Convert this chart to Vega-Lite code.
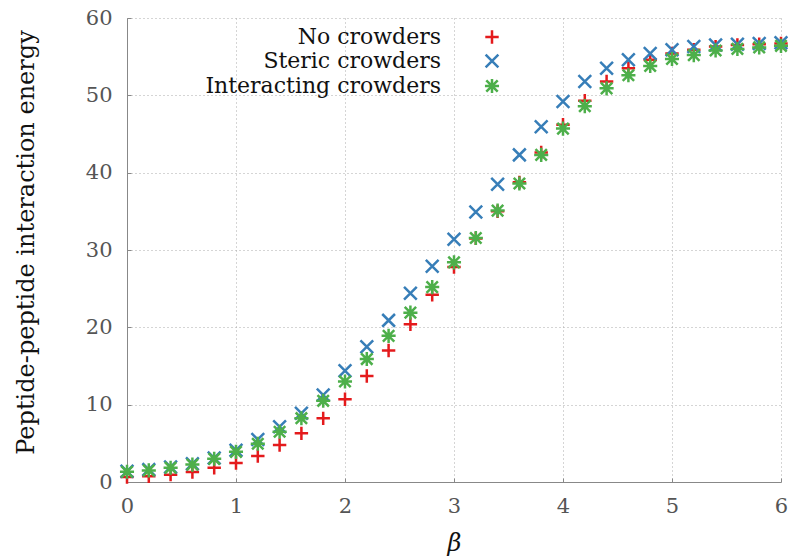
{
  "$schema": "https://vega.github.io/schema/vega-lite/v6.json",
  "width": 654,
  "height": 464,
  "autosize": {"type": "none"},
  "padding": {"left": 127, "top": 18, "right": 7, "bottom": 77},
  "background": "white",
  "config": {
    "view": {"stroke": null},
    "font": "DejaVu Serif",
    "axis": {
      "labelFont": "DejaVu Serif",
      "labelFontSize": 21,
      "labelColor": "#555555",
      "titleFont": "DejaVu Serif",
      "titleFontSize": 24,
      "titleFontWeight": "normal",
      "titleColor": "#111111",
      "domainColor": "#888888",
      "domainWidth": 1,
      "gridColor": "#aaaaaa",
      "gridDash": [1, 3],
      "gridWidth": 1,
      "tickColor": "#888888",
      "tickSize": -4,
      "labelFlush": false,
      "labelOverlap": false
    },
    "legend": {
      "orient": "none",
      "legendX": 354,
      "legendY": 8,
      "padding": 0,
      "labelAlign": "right",
      "labelOffset": -62,
      "labelFont": "DejaVu Serif",
      "labelFontSize": 22,
      "labelColor": "#111111",
      "labelLimit": 0,
      "rowPadding": 0,
      "symbolSize": 180,
      "symbolStrokeWidth": 2.5,
      "symbolType": "stroke"
    }
  },
  "data": {
    "values": [
      {"beta": 0.0, "energy": 0.65, "series": "No crowders"},
      {"beta": 0.2, "energy": 0.75, "series": "No crowders"},
      {"beta": 0.4, "energy": 0.95, "series": "No crowders"},
      {"beta": 0.6, "energy": 1.3, "series": "No crowders"},
      {"beta": 0.8, "energy": 1.85, "series": "No crowders"},
      {"beta": 1.0, "energy": 2.45, "series": "No crowders"},
      {"beta": 1.2, "energy": 3.36, "series": "No crowders"},
      {"beta": 1.4, "energy": 4.78, "series": "No crowders"},
      {"beta": 1.6, "energy": 6.29, "series": "No crowders"},
      {"beta": 1.8, "energy": 8.23, "series": "No crowders"},
      {"beta": 2.0, "energy": 10.7, "series": "No crowders"},
      {"beta": 2.2, "energy": 13.7, "series": "No crowders"},
      {"beta": 2.4, "energy": 17.0, "series": "No crowders"},
      {"beta": 2.6, "energy": 20.4, "series": "No crowders"},
      {"beta": 2.8, "energy": 24.2, "series": "No crowders"},
      {"beta": 3.0, "energy": 27.8, "series": "No crowders"},
      {"beta": 3.2, "energy": 31.5, "series": "No crowders"},
      {"beta": 3.4, "energy": 35.0, "series": "No crowders"},
      {"beta": 3.6, "energy": 38.75, "series": "No crowders"},
      {"beta": 3.8, "energy": 42.6, "series": "No crowders"},
      {"beta": 4.0, "energy": 46.2, "series": "No crowders"},
      {"beta": 4.2, "energy": 49.3, "series": "No crowders"},
      {"beta": 4.4, "energy": 51.8, "series": "No crowders"},
      {"beta": 4.6, "energy": 53.5, "series": "No crowders"},
      {"beta": 4.8, "energy": 54.6, "series": "No crowders"},
      {"beta": 5.0, "energy": 55.4, "series": "No crowders"},
      {"beta": 5.2, "energy": 55.9, "series": "No crowders"},
      {"beta": 5.4, "energy": 56.3, "series": "No crowders"},
      {"beta": 5.6, "energy": 56.5, "series": "No crowders"},
      {"beta": 5.8, "energy": 56.6, "series": "No crowders"},
      {"beta": 6.0, "energy": 56.7, "series": "No crowders"},
      {"beta": 0.0, "energy": 1.4, "series": "Steric crowders"},
      {"beta": 0.2, "energy": 1.6, "series": "Steric crowders"},
      {"beta": 0.4, "energy": 1.95, "series": "Steric crowders"},
      {"beta": 0.6, "energy": 2.35, "series": "Steric crowders"},
      {"beta": 0.8, "energy": 3.1, "series": "Steric crowders"},
      {"beta": 1.0, "energy": 4.1, "series": "Steric crowders"},
      {"beta": 1.2, "energy": 5.5, "series": "Steric crowders"},
      {"beta": 1.4, "energy": 7.15, "series": "Steric crowders"},
      {"beta": 1.6, "energy": 8.9, "series": "Steric crowders"},
      {"beta": 1.8, "energy": 11.25, "series": "Steric crowders"},
      {"beta": 2.0, "energy": 14.4, "series": "Steric crowders"},
      {"beta": 2.2, "energy": 17.5, "series": "Steric crowders"},
      {"beta": 2.4, "energy": 20.9, "series": "Steric crowders"},
      {"beta": 2.6, "energy": 24.4, "series": "Steric crowders"},
      {"beta": 2.8, "energy": 27.9, "series": "Steric crowders"},
      {"beta": 3.0, "energy": 31.4, "series": "Steric crowders"},
      {"beta": 3.2, "energy": 34.9, "series": "Steric crowders"},
      {"beta": 3.4, "energy": 38.5, "series": "Steric crowders"},
      {"beta": 3.6, "energy": 42.3, "series": "Steric crowders"},
      {"beta": 3.8, "energy": 45.95, "series": "Steric crowders"},
      {"beta": 4.0, "energy": 49.2, "series": "Steric crowders"},
      {"beta": 4.2, "energy": 51.8, "series": "Steric crowders"},
      {"beta": 4.4, "energy": 53.5, "series": "Steric crowders"},
      {"beta": 4.6, "energy": 54.6, "series": "Steric crowders"},
      {"beta": 4.8, "energy": 55.4, "series": "Steric crowders"},
      {"beta": 5.0, "energy": 55.9, "series": "Steric crowders"},
      {"beta": 5.2, "energy": 56.3, "series": "Steric crowders"},
      {"beta": 5.4, "energy": 56.5, "series": "Steric crowders"},
      {"beta": 5.6, "energy": 56.6, "series": "Steric crowders"},
      {"beta": 5.8, "energy": 56.7, "series": "Steric crowders"},
      {"beta": 6.0, "energy": 56.8, "series": "Steric crowders"},
      {"beta": 0.0, "energy": 1.33, "series": "Interacting crowders"},
      {"beta": 0.2, "energy": 1.5, "series": "Interacting crowders"},
      {"beta": 0.4, "energy": 1.85, "series": "Interacting crowders"},
      {"beta": 0.6, "energy": 2.25, "series": "Interacting crowders"},
      {"beta": 0.8, "energy": 3.0, "series": "Interacting crowders"},
      {"beta": 1.0, "energy": 3.9, "series": "Interacting crowders"},
      {"beta": 1.2, "energy": 4.95, "series": "Interacting crowders"},
      {"beta": 1.4, "energy": 6.5, "series": "Interacting crowders"},
      {"beta": 1.6, "energy": 8.25, "series": "Interacting crowders"},
      {"beta": 1.8, "energy": 10.5, "series": "Interacting crowders"},
      {"beta": 2.0, "energy": 13.0, "series": "Interacting crowders"},
      {"beta": 2.2, "energy": 15.9, "series": "Interacting crowders"},
      {"beta": 2.4, "energy": 18.9, "series": "Interacting crowders"},
      {"beta": 2.6, "energy": 21.9, "series": "Interacting crowders"},
      {"beta": 2.8, "energy": 25.2, "series": "Interacting crowders"},
      {"beta": 3.0, "energy": 28.4, "series": "Interacting crowders"},
      {"beta": 3.2, "energy": 31.55, "series": "Interacting crowders"},
      {"beta": 3.4, "energy": 35.1, "series": "Interacting crowders"},
      {"beta": 3.6, "energy": 38.6, "series": "Interacting crowders"},
      {"beta": 3.8, "energy": 42.3, "series": "Interacting crowders"},
      {"beta": 4.0, "energy": 45.7, "series": "Interacting crowders"},
      {"beta": 4.2, "energy": 48.6, "series": "Interacting crowders"},
      {"beta": 4.4, "energy": 50.9, "series": "Interacting crowders"},
      {"beta": 4.6, "energy": 52.6, "series": "Interacting crowders"},
      {"beta": 4.8, "energy": 53.8, "series": "Interacting crowders"},
      {"beta": 5.0, "energy": 54.7, "series": "Interacting crowders"},
      {"beta": 5.2, "energy": 55.2, "series": "Interacting crowders"},
      {"beta": 5.4, "energy": 55.8, "series": "Interacting crowders"},
      {"beta": 5.6, "energy": 56.0, "series": "Interacting crowders"},
      {"beta": 5.8, "energy": 56.2, "series": "Interacting crowders"},
      {"beta": 6.0, "energy": 56.4, "series": "Interacting crowders"}
    ]
  },
  "mark": {"type": "point", "filled": false, "strokeWidth": 2.5, "size": 180, "opacity": 1, "clip": false},
  "encoding": {
    "x": {
      "field": "beta",
      "type": "quantitative",
      "scale": {"domain": [0, 6], "nice": false, "zero": false},
      "axis": {"title": "β", "titleFontStyle": "italic", "titleFontSize": 24, "values": [0, 1, 2, 3, 4, 5, 6], "labelPadding": 17, "titlePadding": 15}
    },
    "y": {
      "field": "energy",
      "type": "quantitative",
      "scale": {"domain": [0, 60], "nice": false},
      "axis": {"title": "Peptide-peptide interaction energy", "values": [0, 10, 20, 30, 40, 50, 60], "labelPadding": 19, "titlePadding": 47, "titleY": 224}
    },
    "color": {
      "field": "series",
      "type": "nominal",
      "scale": {"domain": ["No crowders", "Steric crowders", "Interacting crowders"], "range": ["#e41a1c", "#377eb8", "#4daf4a"]},
      "legend": {"title": null}
    },
    "shape": {
      "field": "series",
      "type": "nominal",
      "scale": {"domain": ["No crowders", "Steric crowders", "Interacting crowders"], "range": ["M-1,0L1,0M0,-1L0,1", "M-0.95,-0.95L0.95,0.95M-0.95,0.95L0.95,-0.95", "M-1.05,0L1.05,0M0,-1.05L0,1.05M-0.85,-0.85L0.85,0.85M-0.85,0.85L0.85,-0.85"]},
      "legend": {"title": null}
    }
  }
}
